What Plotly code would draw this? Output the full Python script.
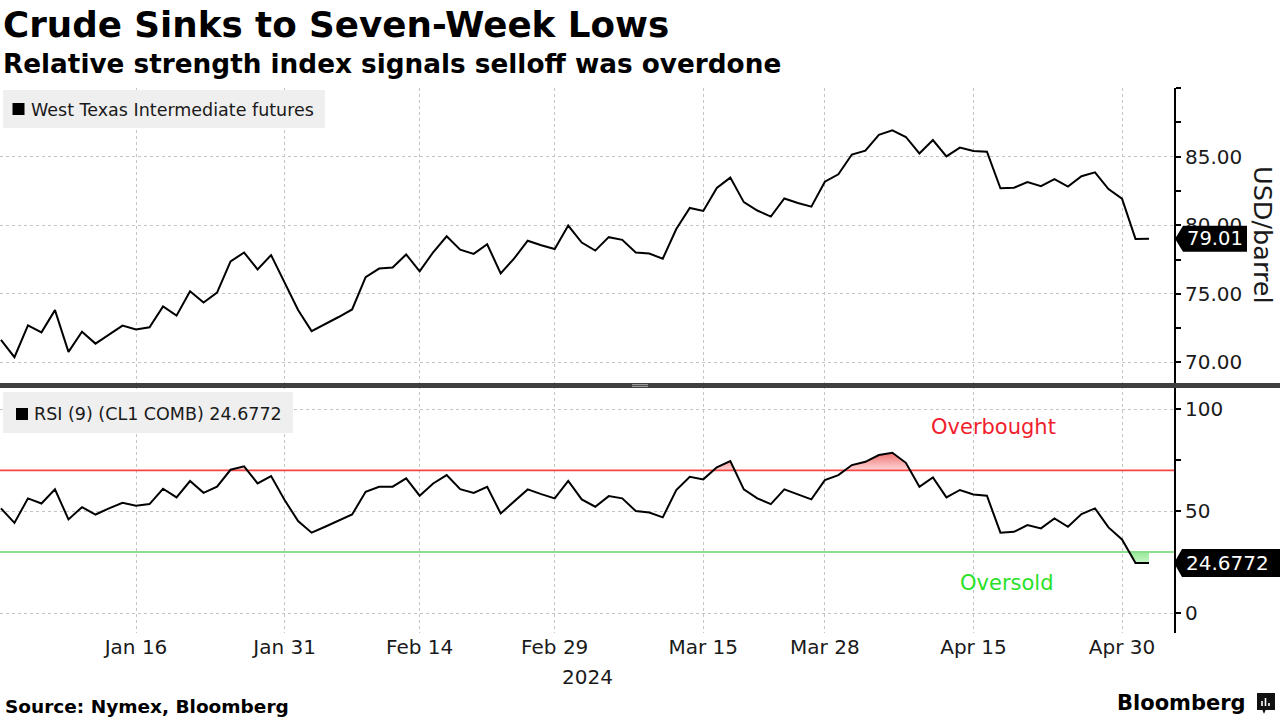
import numpy as np
import plotly.graph_objects as go

# ---------------- data ----------------
dates = ["2023-12-29",
         "2024-01-02", "2024-01-03", "2024-01-04", "2024-01-05", "2024-01-08", "2024-01-09", "2024-01-10",
         "2024-01-11", "2024-01-12", "2024-01-16", "2024-01-17", "2024-01-18", "2024-01-19", "2024-01-22",
         "2024-01-23", "2024-01-24", "2024-01-25", "2024-01-26", "2024-01-29", "2024-01-30", "2024-01-31",
         "2024-02-01", "2024-02-02", "2024-02-05", "2024-02-06", "2024-02-07", "2024-02-08", "2024-02-09",
         "2024-02-12", "2024-02-13", "2024-02-14", "2024-02-15", "2024-02-16", "2024-02-20", "2024-02-21",
         "2024-02-22", "2024-02-23", "2024-02-26", "2024-02-27", "2024-02-28", "2024-02-29",
         "2024-03-01", "2024-03-04", "2024-03-05", "2024-03-06", "2024-03-07", "2024-03-08", "2024-03-11",
         "2024-03-12", "2024-03-13", "2024-03-14", "2024-03-15", "2024-03-18", "2024-03-19", "2024-03-20",
         "2024-03-21", "2024-03-22", "2024-03-25", "2024-03-26", "2024-03-27", "2024-03-28",
         "2024-04-01", "2024-04-02", "2024-04-03", "2024-04-04", "2024-04-05", "2024-04-08", "2024-04-09",
         "2024-04-10", "2024-04-11", "2024-04-12", "2024-04-15", "2024-04-16", "2024-04-17", "2024-04-18",
         "2024-04-19", "2024-04-22", "2024-04-23", "2024-04-24", "2024-04-25", "2024-04-26", "2024-04-29",
         "2024-04-30", "2024-05-01", "2024-05-02"]

wti = [71.65,
       70.38, 72.70, 72.19, 73.81, 70.77, 72.24, 71.37, 72.02, 72.68, 72.40, 72.56, 74.08, 73.41, 75.19,
       74.37, 75.09, 77.36, 78.01, 76.78, 77.82, 75.85,
       73.82, 72.28, 72.78, 73.31, 73.86, 76.22, 76.84, 76.92, 77.87, 76.64, 78.03, 79.19, 78.22, 77.91,
       78.61, 76.49, 77.58, 78.87, 78.54, 78.26,
       79.97, 78.74, 78.15, 79.13, 78.93, 78.01, 77.93, 77.56, 79.72, 81.26, 81.04, 82.72, 83.47, 81.68,
       81.07, 80.63, 81.95, 81.62, 81.35, 83.17,
       83.71, 85.15, 85.43, 86.59, 86.91, 86.43, 85.23, 86.21, 85.02, 85.66, 85.41, 85.36, 82.69, 82.73,
       83.14, 82.85, 83.36, 82.81, 83.57, 83.85, 82.63, 81.93,
       79.00, 79.01]

rsi = [51.4,
       44.3, 56.3, 53.8, 60.7, 46.0, 52.0, 48.4, 51.4, 54.1, 52.7, 53.5, 61.0, 56.8, 64.8,
       59.0, 62.0, 70.3, 72.0, 63.6, 67.2, 55.5,
       45.2, 39.5, 42.4, 45.3, 48.4, 59.5, 62.0, 62.0, 66.1, 57.6, 63.6, 67.7, 60.8, 59.0,
       62.0, 48.9, 54.6, 60.7, 58.4, 56.3,
       64.8, 55.8, 52.2, 57.4, 56.3, 50.1, 49.4, 47.0, 60.4, 66.9, 65.6, 71.5, 74.5, 60.7,
       56.3, 53.5, 60.7, 58.2, 55.8, 65.2,
       67.7, 72.6, 74.2, 77.5, 78.6, 73.7, 62.0, 66.6, 56.8, 60.4, 58.2, 57.6, 39.5, 39.9,
       43.2, 41.6, 46.5, 42.4, 48.6, 51.4, 42.1, 36.2,
       24.7, 24.6772]

tick_dates = ["2024-01-16", "2024-01-31", "2024-02-14", "2024-02-29",
              "2024-03-15", "2024-03-28", "2024-04-15", "2024-04-30"]
tick_labels = ["Jan 16", "Jan 31", "Feb 14", "Feb 29", "Mar 15", "Mar 28", "Apr 15", "Apr 30"]
price_ticks = [70, 75, 80, 85, 90]
price_labels = ["70.00", "75.00", "80.00", "85.00", ""]
price_minor = [72.5, 77.5, 82.5, 87.5]
rsi_ticks = [0, 50, 100]
rsi_minor = [25, 75]
OVERBOUGHT = 70
OVERSOLD = 30

# ---------------- layout helpers ----------------
W, H = 1280, 720
ML, MR, MT, MB = 0, 106, 88, 87
PW, PH = W - ML - MR, H - MT - MB


def px(x):
    return (x - ML) / PW


def py(y):
    return (H - MB - y) / PH


FONT = "DejaVu Sans"
idx = np.arange(len(dates))
tick_idx = [dates.index(d) for d in tick_dates]
x_range = [-0.07, 86.85]


def dense_series(vals, level):
    xs, ys = [], []
    for i in range(len(vals) - 1):
        xs.append(float(i)); ys.append(vals[i])
        a, b = vals[i], vals[i + 1]
        if (a - level) * (b - level) < 0:
            t = (level - a) / (b - a)
            xs.append(i + t); ys.append(level)
    xs.append(float(len(vals) - 1)); ys.append(vals[-1])
    return np.array(xs), np.array(ys)


fig = go.Figure()

# price line
fig.add_trace(go.Scatter(x=idx, y=wti, mode="lines", line=dict(color="black", width=2),
                         xaxis="x", yaxis="y", hoverinfo="skip"))

# overbought fill
dx, dy = dense_series(rsi, OVERBOUGHT)
fig.add_trace(go.Scatter(x=dx, y=[OVERBOUGHT] * len(dx), mode="lines", line=dict(width=0),
                         xaxis="x2", yaxis="y2", hoverinfo="skip"))
fig.add_trace(go.Scatter(x=dx, y=np.maximum(dy, OVERBOUGHT), mode="lines", line=dict(width=0),
                         fill="tonexty",
                         fillgradient=dict(type="vertical",
                                           colorscale=[[0, "rgb(255,215,215)"], [1, "rgb(238,110,110)"]],
                                           start=OVERBOUGHT, stop=79),
                         xaxis="x2", yaxis="y2", hoverinfo="skip"))
# oversold fill
dx2, dy2 = dense_series(rsi, OVERSOLD)
fig.add_trace(go.Scatter(x=dx2, y=[OVERSOLD] * len(dx2), mode="lines", line=dict(width=0),
                         xaxis="x2", yaxis="y2", hoverinfo="skip"))
fig.add_trace(go.Scatter(x=dx2, y=np.minimum(dy2, OVERSOLD), mode="lines", line=dict(width=0),
                         fill="tonexty",
                         fillgradient=dict(type="vertical",
                                           colorscale=[[0, "rgb(205,248,205)"], [1, "rgb(150,232,150)"]],
                                           start=24, stop=OVERSOLD),
                         xaxis="x2", yaxis="y2", hoverinfo="skip"))

# threshold lines
fig.add_trace(go.Scatter(x=x_range, y=[OVERBOUGHT] * 2, mode="lines",
                         line=dict(color="rgb(245,70,70)", width=1.6),
                         xaxis="x2", yaxis="y2", hoverinfo="skip"))
fig.add_trace(go.Scatter(x=x_range, y=[OVERSOLD] * 2, mode="lines",
                         line=dict(color="rgb(140,222,140)", width=2),
                         xaxis="x2", yaxis="y2", hoverinfo="skip"))

# RSI line
fig.add_trace(go.Scatter(x=idx, y=rsi, mode="lines", line=dict(color="black", width=2),
                         xaxis="x2", yaxis="y2", hoverinfo="skip"))

grid = dict(showgrid=True, gridcolor="#c4c4c4", griddash="dot", gridwidth=1, zeroline=False)
top_dom = [py(383), 1]
bot_dom = [0, py(386)]

xcommon = dict(range=x_range, tickmode="array", tickvals=tick_idx, ticktext=tick_labels,
               showline=False, ticks="", **grid)
yfont = dict(family=FONT, size=20, color="#1a1a1a")

fig.update_layout(
    width=W, height=H, margin=dict(l=ML, r=MR, t=MT, b=MB, pad=0),
    paper_bgcolor="white", plot_bgcolor="white", showlegend=False, hovermode=False,
    font=dict(family=FONT, color="#1a1a1a"),
    xaxis=dict(domain=[0, 1], anchor="y", showticklabels=False, **xcommon),
    xaxis2=dict(domain=[0, 1], anchor="y2", matches="x", showticklabels=True,
                tickfont=dict(family=FONT, size=20, color="#1a1a1a"), **xcommon),
    yaxis=dict(domain=top_dom, anchor="x", side="right", range=[68.5, 90],
               tickmode="array", tickvals=price_ticks, ticktext=price_labels,
               showline=True, linecolor="black", linewidth=2,
               ticks="outside", ticklen=5, tickwidth=1.5, tickcolor="black",
               minor=dict(tickmode="array", tickvals=price_minor, ticks="outside",
                          ticklen=5, tickwidth=1.5, tickcolor="black", showgrid=False),
               tickfont=yfont, **grid),
    yaxis2=dict(domain=bot_dom, anchor="x2", side="right", range=[-9.6, 111.3],
                tickmode="array", tickvals=rsi_ticks, ticktext=[str(v) for v in rsi_ticks],
                showline=True, linecolor="black", linewidth=2,
                ticks="outside", ticklen=5, tickwidth=1.5, tickcolor="black",
                minor=dict(tickmode="array", tickvals=rsi_minor, ticks="outside",
                           ticklen=5, tickwidth=1.5, tickcolor="black", showgrid=False),
                tickfont=yfont, **grid),
)

shapes = []
# panel separator bar and handle
shapes.append(dict(type="rect", xref="paper", yref="paper", x0=px(0), x1=px(W), y0=py(388), y1=py(383),
                   fillcolor="#3f3f3f", line=dict(width=0), layer="above"))
for yy in (384.6, 386.4):
    shapes.append(dict(type="line", xref="paper", yref="paper", x0=px(632), x1=px(648), y0=py(yy), y1=py(yy),
                       line=dict(color="#bdbdbd", width=0.8), layer="above"))
# legend boxes
shapes.append(dict(type="rect", xref="paper", yref="paper", x0=px(3), x1=px(325), y0=py(128), y1=py(90),
                   fillcolor="#efefef", line=dict(width=0), layer="above"))
shapes.append(dict(type="rect", xref="paper", yref="paper", x0=px(12.5), x1=px(24.5), y0=py(115), y1=py(103),
                   fillcolor="black", line=dict(width=0), layer="above"))
shapes.append(dict(type="rect", xref="paper", yref="paper", x0=px(3), x1=px(293), y0=py(433), y1=py(392),
                   fillcolor="#efefef", line=dict(width=0), layer="above"))
shapes.append(dict(type="rect", xref="paper", yref="paper", x0=px(16), x1=px(28), y0=py(420), y1=py(408),
                   fillcolor="black", line=dict(width=0), layer="above"))
# last value tags
shapes.append(dict(type="path", xref="paper", yref="y", xsizemode="pixel", ysizemode="pixel",
                   xanchor=1, yanchor=wti[-1],
                   path="M 1,0 L 9,13 L 73,13 L 73,-13 L 9,-13 Z",
                   fillcolor="black", line=dict(width=0), layer="above"))
shapes.append(dict(type="path", xref="paper", yref="y2", xsizemode="pixel", ysizemode="pixel",
                   xanchor=1, yanchor=rsi[-1],
                   path="M 0,0 L 8,14 L 106,14 L 106,-14 L 8,-14 Z",
                   fillcolor="black", line=dict(width=0), layer="above"))
# Bloomberg icon
shapes.append(dict(type="rect", xref="paper", yref="paper", x0=px(1257), x1=px(1275), y0=py(710), y1=py(693),
                   fillcolor="#111", line=dict(width=0), layer="above"))
shapes.append(dict(type="path", xref="paper", yref="paper",
                   path=f"M {px(1262)},{py(709)} L {px(1266)},{py(709)} L {px(1264)},{py(714)} Z",
                   fillcolor="#111", line=dict(width=0), layer="above"))
for bx, btop in ((1262, 701), (1265.5, 698), (1269, 703)):
    shapes.append(dict(type="line", xref="paper", yref="paper", x0=px(bx), x1=px(bx), y0=py(706), y1=py(btop),
                       line=dict(color="white", width=1.6), layer="above"))
fig.update_layout(shapes=shapes)

ann = []


def text(x, y, s, size, color="#1a1a1a", xanchor="left", bold=False, angle=0, xref="paper", yref="paper"):
    ann.append(dict(x=x, y=y, xref=xref, yref=yref, text=f"<b>{s}</b>" if bold else s, showarrow=False,
                    xanchor=xanchor, yanchor="middle", textangle=angle,
                    font=dict(family=FONT, size=size, color=color)))


text(px(1), py(25), "Crude Sinks to Seven-Week Lows", 35.7, color="black", bold=True)
text(px(1), py(64), "Relative strength index signals selloff was overdone", 26.3, color="black", bold=True)
text(px(29), py(110), "West Texas Intermediate futures", 17.5)
text(px(32), py(414), f"RSI (9) (CL1 COMB) {rsi[-1]:.4f}", 17.5)
text(px(993), py(427), "Overbought", 21, color="rgb(240,30,45)", xanchor="center")
text(px(1007), py(583), "Oversold", 21, color="rgb(40,225,40)", xanchor="center")
text(px(1215), wti[-1], f"{wti[-1]:.2f}", 19.5, color="white", xanchor="center", yref="y")
text(px(1227), rsi[-1], f"{rsi[-1]:.4f}", 20, color="white", xanchor="center", yref="y2")
text(px(1263), py(235), "USD/barrel", 25.5, xanchor="center", angle=90)
text(0.5, py(677), "2024", 20, xanchor="center")
text(px(3), py(706), "Source: Nymex, Bloomberg", 18.5, color="black", bold=True)
text(px(1248), py(703), "Bloomberg", 21, color="black", xanchor="right", bold=True)
fig.update_layout(annotations=ann)

fig.write_html("out.html", config={"displayModeBar": False},
               post_script="document.body.style.margin='0px';")
